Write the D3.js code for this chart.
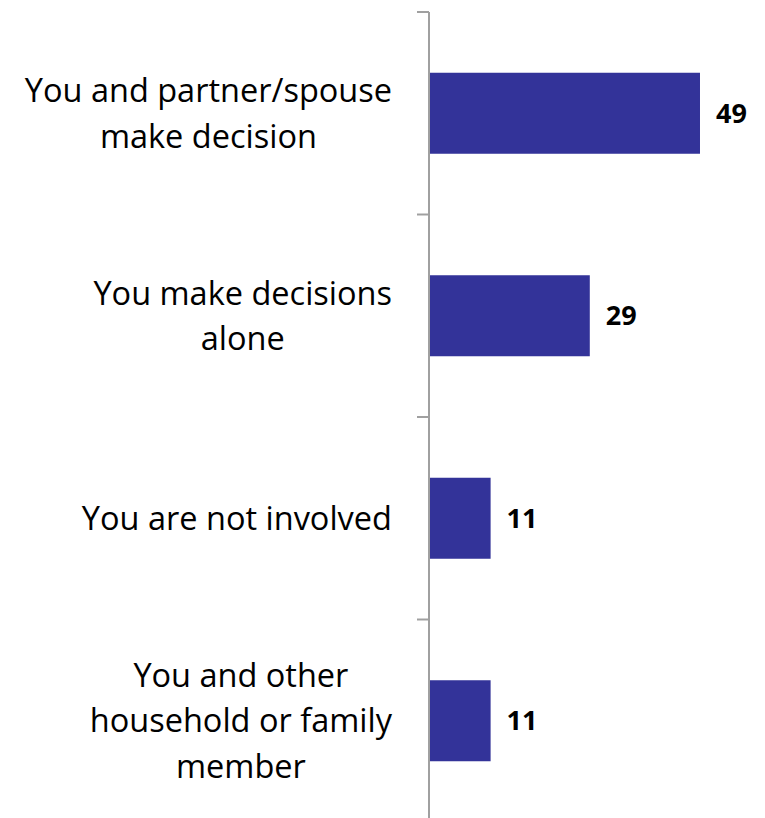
<!DOCTYPE html>
<html>
<head>
<meta charset="utf-8">
<script src="https://cdn.jsdelivr.net/npm/d3@7"></script>
<style>
  html, body { margin: 0; padding: 0; background: #ffffff; }
  svg { display: block; }
</style>
</head>
<body>
<svg id="chart" width="765" height="818"></svg>
<script>
// Who makes the decisions — share of respondents (%)
const categories = [
  "You and partner/spouse make decision",
  "You make decisions alone",
  "You are not involved",
  "You and other household or family member"
];
// Category labels as they wrap on the axis
const labelLines = [
  ["You and partner/spouse", "make decision"],
  ["You make decisions", "alone"],
  ["You are not involved"],
  ["You and other", "household or family", "member"]
];
const values = [49, 29, 11, 11];

const width = 765, height = 818;
const axisX = 430;
const labelRight = 392;
const lineGap = 45.5;

const svg = d3.select("#chart");

const x = d3.scaleLinear().domain([0, 50]).range([axisX, axisX + 275.5]);
const y = d3.scaleBand().domain(categories).range([12, 822]).padding(0);

const barFrac = 0.4;
const barH = y.bandwidth() * barFrac;
const barOff = y.bandwidth() * (1 - barFrac) / 2;

// Bars
svg.append("g")
  .selectAll("rect")
  .data(values)
  .join("rect")
  .attr("x", x(0))
  .attr("y", (d, i) => y(categories[i]) + barOff)
  .attr("width", d => x(d) - x(0))
  .attr("height", barH)
  .attr("fill", "#333399");

// Vertical category axis with ticks on band boundaries
const axisG = svg.append("g").attr("stroke", "#a0a0a0").attr("stroke-width", 2);
axisG.append("line")
  .attr("x1", axisX - 1).attr("x2", axisX - 1)
  .attr("y1", y.range()[0]).attr("y2", y.range()[1]);
const bounds = categories.map(c => y(c)).concat([y.range()[1]]);
axisG.selectAll("line.tick")
  .data(bounds)
  .join("line")
  .attr("class", "tick")
  .attr("x1", axisX - 13).attr("x2", axisX - 1)
  .attr("y1", d => d).attr("y2", d => d);

// Value labels
svg.append("g")
  .selectAll("text")
  .data(values)
  .join("text")
  .attr("x", d => x(d) + 16)
  .attr("y", (d, i) => y(categories[i]) + y.bandwidth() / 2)
  .attr("dy", "0.36em")
  .attr("font-family", "'Open Sans', sans-serif")
  .attr("font-weight", "bold")
  .attr("font-size", 27)
  .attr("fill", "#000")
  .text(d => d);

// Category labels: lines centred within a right-aligned block
const labelG = svg.append("g")
  .attr("font-family", "'Open Sans', sans-serif")
  .attr("font-size", 32.5)
  .attr("fill", "#000");

categories.forEach((c, i) => {
  const lines = labelLines[i];
  const t = labelG.append("text").attr("text-anchor", "middle");
  const cy = y(c) + y.bandwidth() / 2;
  const firstBase = cy - (lines.length - 1) * lineGap / 2 + 11.5;
  lines.forEach((ln, j) => {
    t.append("tspan")
      .attr("y", firstBase + j * lineGap)
      .text(ln);
  });
  // measure the widest line, then centre the block so its right edge sits at labelRight
  let maxW = 0;
  t.selectAll("tspan").each(function () {
    maxW = Math.max(maxW, this.getComputedTextLength());
  });
  t.selectAll("tspan").attr("x", labelRight - maxW / 2);
});
</script>
</body>
</html>
